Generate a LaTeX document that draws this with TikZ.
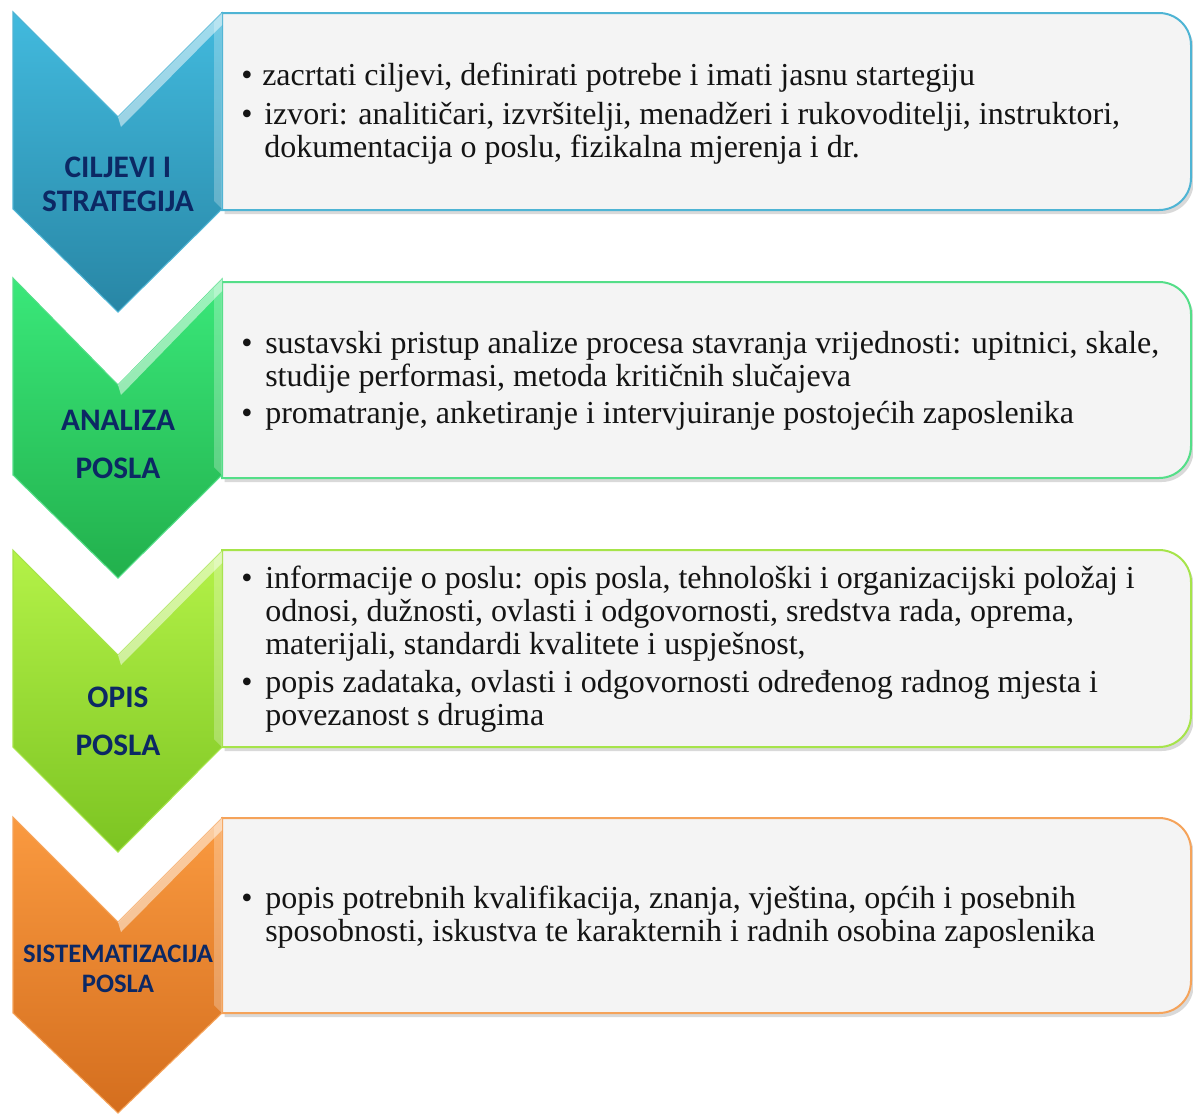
\documentclass[tikz,border=0pt]{standalone}
\usepackage{fontspec}
\setmainfont{Liberation Serif}
\newfontfamily\labelfont{Carlito}
\usetikzlibrary{shadows}

\definecolor{boxgray}{RGB}{244,244,244}
\definecolor{labelnavy}{RGB}{12,40,100}
\definecolor{bodytext}{RGB}{20,20,20}
\definecolor{blueTop}{RGB}{66,186,222}
\definecolor{blueBot}{RGB}{40,134,165}
\definecolor{blueLine}{RGB}{78,180,212}
\definecolor{greenTop}{RGB}{58,232,122}
\definecolor{greenBot}{RGB}{34,176,76}
\definecolor{greenLine}{RGB}{84,222,136}
\definecolor{limeTop}{RGB}{180,242,72}
\definecolor{limeBot}{RGB}{124,196,34}
\definecolor{limeLine}{RGB}{166,228,74}
\definecolor{orangeTop}{RGB}{250,154,64}
\definecolor{orangeBot}{RGB}{212,110,30}
\definecolor{orangeLine}{RGB}{245,163,90}

\begin{document}
\begin{tikzpicture}[x=0.75pt,y=0.75pt,yscale=-1,xscale=1,
	boxline/.style={line width=1.5pt, fill=boxgray, drop shadow={shadow xshift=2pt, shadow yshift=-3pt, opacity=0.25, fill=black!60}},
	chevline/.style={line width=0.8pt},
	bevel/.style={draw=none, fill=white, fill opacity=0.5},
	chevlabel/.style={align=center, inner sep=0pt, text=labelnavy, font=\labelfont\bfseries\fontsize{23.5}{25.5}\selectfont},
	itemdot/.style={anchor=base, inner sep=0pt, text=bodytext, font=\fontsize{24}{24.75}\selectfont},
	itemtext/.style={anchor=base west, inner sep=0pt, text=bodytext, font=\fontsize{24}{24.75}\selectfont}
]
\useasboundingbox (0,0) rectangle (1193,1117);

%Rounded Rect [id:box1]
\draw [boxline, draw=blueLine] (222,13) -- (1159,13) .. controls (1176.7,13) and (1191,27.3) .. (1191,45) -- (1191,178) .. controls (1191,195.7) and (1176.7,210) .. (1159,210) -- (222,210) -- cycle ;
%Rounded Rect [id:box2]
\draw [boxline, draw=greenLine] (222,282) -- (1159,282) .. controls (1176.7,282) and (1191,296.3) .. (1191,314) -- (1191,446) .. controls (1191,463.7) and (1176.7,478) .. (1159,478) -- (222,478) -- cycle ;
%Rounded Rect [id:box3]
\draw [boxline, draw=limeLine] (222,550) -- (1159,550) .. controls (1176.7,550) and (1191,564.3) .. (1191,582) -- (1191,715) .. controls (1191,732.7) and (1176.7,747) .. (1159,747) -- (222,747) -- cycle ;
%Rounded Rect [id:box4]
\draw [boxline, draw=orangeLine] (222,818) -- (1159,818) .. controls (1176.7,818) and (1191,832.3) .. (1191,850) -- (1191,981) .. controls (1191,998.7) and (1176.7,1013) .. (1159,1013) -- (222,1013) -- cycle ;

%Shape: Chevron [id:chev1]
\shade [chevline, draw=blueLine, top color=blueTop, bottom color=blueBot] (13,12) -- (118,117) -- (222,13) -- (222,209) -- (118,312) -- (13,209) -- cycle ;
\fill [bevel] (118,117) -- (222,13) -- (222,25) -- (121,127) -- cycle ;
\fill [bevel, fill opacity=0.25] (214,22) -- (222,14) -- (222,209) -- (214,201) -- cycle ;
%Shape: Chevron [id:chev2]
\shade [chevline, draw=greenLine, top color=greenTop, bottom color=greenBot] (13,278) -- (118,385) -- (222,279) -- (222,475) -- (118,578) -- (13,475) -- cycle ;
\fill [bevel] (118,385) -- (222,279) -- (222,291) -- (121,395) -- cycle ;
\fill [bevel, fill opacity=0.25] (214,288) -- (222,280) -- (222,475) -- (214,467) -- cycle ;
%Shape: Chevron [id:chev3]
\shade [chevline, draw=limeLine, top color=limeTop, bottom color=limeBot] (13,550) -- (118,655) -- (222,551) -- (222,747) -- (118,852) -- (13,747) -- cycle ;
\fill [bevel] (118,655) -- (222,551) -- (222,563) -- (121,665) -- cycle ;
\fill [bevel, fill opacity=0.25] (214,560) -- (222,552) -- (222,747) -- (214,739) -- cycle ;
%Shape: Chevron [id:chev4]
\shade [chevline, draw=orangeLine, top color=orangeTop, bottom color=orangeBot] (13,817) -- (118,922) -- (222,818) -- (222,1013) -- (118,1113) -- (13,1013) -- cycle ;
\fill [bevel] (118,922) -- (222,818) -- (222,830) -- (121,932) -- cycle ;
\fill [bevel, fill opacity=0.25] (214,827) -- (222,819) -- (222,1013) -- (214,1005) -- cycle ;

% Text Node
\node [chevlabel] (lab1) at (118,184) {CILJEVI I\\STRATEGIJA};
% Text Node
\node [chevlabel] (lab2) at (118,444) {ANALIZA\\[10.5pt]POSLA};
% Text Node
\node [chevlabel] (lab3) at (118,721) {OPIS\\[10.5pt]POSLA};
% Text Node
\node [chevlabel, font=\labelfont\bfseries\fontsize{20}{22.5}\selectfont] (lab4) at (118,969) {SISTEMATIZACIJA\\POSLA};

% Text Node
\node [itemdot] (dot1a) at (247,85) {•};
\node [itemtext] (item1a) at (262,85) {zacrtati ciljevi, definirati potrebe i imati jasnu startegiju};
% Text Node
\node [itemdot] (dot1b) at (247,124) {•};
\node [itemtext] (item1b) at (264,124) {\parbox[t]{900pt}{izvori: analitičari, izvršitelji, menadžeri i rukovoditelji, instruktori,\\ dokumentacija o poslu, fizikalna mjerenja i dr.}};
% Text Node
\node [itemdot] (dot2a) at (247,353) {•};
\node [itemtext] (item2a) at (265,353) {\parbox[t]{900pt}{sustavski pristup analize procesa stavranja vrijednosti: upitnici, skale,\\ studije performasi, metoda kritičnih slučajeva}};
% Text Node
\node [itemdot] (dot2b) at (247,423) {•};
\node [itemtext] (item2b) at (265,423) {promatranje, anketiranje i intervjuiranje postojećih zaposlenika};
% Text Node
\node [itemdot] (dot3a) at (247,588) {•};
\node [itemtext] (item3a) at (265,588) {\parbox[t]{900pt}{informacije o poslu: opis posla, tehnološki i organizacijski položaj i\\ odnosi, dužnosti, ovlasti i odgovornosti, sredstva rada, oprema,\\ materijali, standardi kvalitete i uspješnost,}};
% Text Node
\node [itemdot] (dot3b) at (247,692) {•};
\node [itemtext] (item3b) at (265,692) {\parbox[t]{900pt}{popis zadataka, ovlasti i odgovornosti određenog radnog mjesta i\\ povezanost s drugima}};
% Text Node
\node [itemdot] (dot4a) at (247,908) {•};
\node [itemtext] (item4a) at (265,908) {\parbox[t]{900pt}{popis potrebnih kvalifikacija, znanja, vještina, općih i posebnih\\ sposobnosti, iskustva te karakternih i radnih osobina zaposlenika}};

\end{tikzpicture}
\end{document}
